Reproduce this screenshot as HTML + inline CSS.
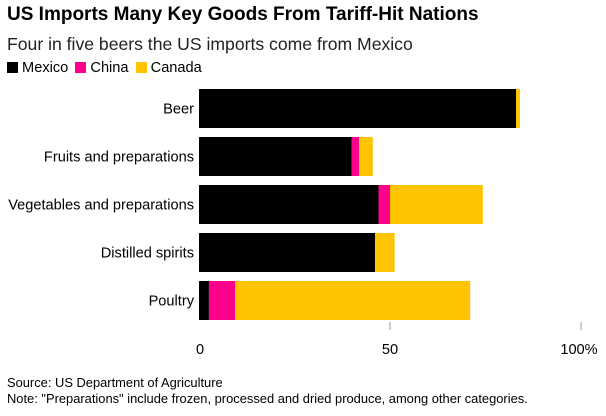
<!DOCTYPE html>
<html><head><meta charset="utf-8"><style>
body{margin:0;width:606px;height:416px;background:#fff;font-family:"Liberation Sans",Arial,sans-serif;overflow:hidden;position:relative}
.t{position:absolute;white-space:nowrap}
</style></head><body>
<div class="t" style="left:7px;top:4px;font-size:19px;font-weight:bold;color:#000">US Imports Many Key Goods From Tariff-Hit Nations</div>
<div class="t" style="left:7px;top:34px;font-size:17.6px;color:#222">Four in five beers the US imports come from Mexico</div>
<div class="t" style="left:7px;top:60px;font-size:14.6px;color:#000">
<span><span style="display:inline-block;width:11px;height:11px;background:#000;vertical-align:-1px"></span> Mexico</span>
<span style="margin-left:3px"><span style="display:inline-block;width:11px;height:11px;background:#ff008c;vertical-align:-1px"></span> China</span>
<span style="margin-left:3px"><span style="display:inline-block;width:11px;height:11px;background:#ffc300;vertical-align:-1px"></span> Canada</span>
</div>
<svg id="chart" width="606" height="416" style="position:absolute;left:0;top:0"></svg>
<div class="t" style="left:7px;top:375px;font-size:12.9px;color:#000">Source: US Department of Agriculture</div>
<div class="t" style="left:7px;top:391px;font-size:12.9px;color:#000">Note: "Preparations" include frozen, processed and dried produce, among other categories.</div>
<script>
const categories=["Beer","Fruits and preparations","Vegetables and preparations","Distilled spirits","Poultry"];
const mexico=[83.0,40.0,47.0,46.1,2.6];
const china=[0,1.9,3.0,0,6.9];
const canada=[1.0,3.6,24.3,5.1,61.5];
const ticks=[0,50,100];
const tickLabels=["0","50","100%"];
const colors=["#000","#ff008c","#ffc300"];
const svg=document.getElementById('chart');const NS="http://www.w3.org/2000/svg";
const x=v=>199+v*3.82;const y=i=>89+i*48;const bh=39;
function mk(t,a){const e=document.createElementNS(NS,t);for(const k in a)e.setAttribute(k,a[k]);svg.appendChild(e);return e;}
categories.forEach((c,i)=>{
 let acc=0;[mexico,china,canada].forEach((s,j)=>{const v=s[i];if(v>0){const r=mk('rect',{x:x(acc),y:y(i),width:x(acc+v)-x(acc),height:bh,fill:colors[j]});
 
 }acc+=v;});
 const l=mk('text',{x:194,y:y(i)+bh/2+5,'text-anchor':'end','font-size':14.6,fill:'#000'});l.textContent=c;
 
 
});
ticks.forEach((t,i)=>{
 if(i>0){const ln=mk('line',{x1:x(t),x2:x(t),y1:322,y2:330,stroke:'#999','stroke-width':1});
 
 }
 const tx=mk('text',{x:i==0?x(t)+1:(i==2?x(t)-2:x(t)),y:354,'text-anchor':'middle','font-size':14.6,fill:'#000'});tx.textContent=tickLabels[i];
 
 
});
</script>
</body></html>
